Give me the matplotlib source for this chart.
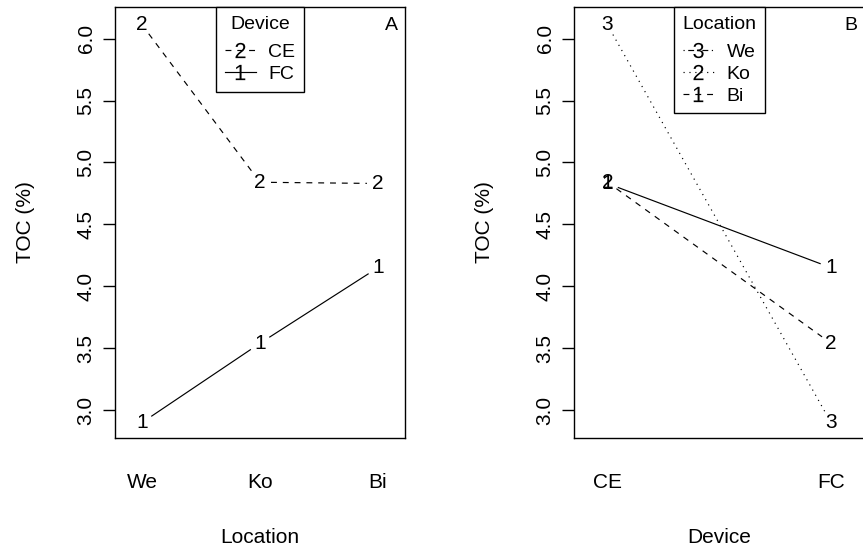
import matplotlib
matplotlib.use("Agg")
import matplotlib.pyplot as plt
from matplotlib.lines import Line2D
import numpy as np

plt.rcParams['font.family'] = ['Liberation Sans', 'DejaVu Sans']
plt.rcParams['mathtext.fontset'] = 'custom'
plt.rcParams['mathtext.rm'] = 'Liberation Sans'
plt.rcParams['mathtext.it'] = 'Liberation Sans'
plt.rcParams['mathtext.bf'] = 'Liberation Sans'

# ---- data ----
locations = ["We", "Ko", "Bi"]
devices = ["CE", "FC"]
toc_CE = [6.11, 4.84, 4.83]   # by location
toc_FC = [2.90, 3.54, 4.15]   # by location
yticks = [3.0, 3.5, 4.0, 4.5, 5.0, 5.5, 6.0]

W, H = 863, 551
fig = plt.figure(figsize=(W / 100, H / 100), dpi=100)

def fx(px):
    return px / W

def fy(py):
    return 1 - py / H

top, bottom = 7, 438
axA = fig.add_axes([fx(115), fy(bottom), fx(290), (bottom - top) / H])
axB = fig.add_axes([fx(574), fy(bottom), fx(290.5), (bottom - top) / H])

ylim = (2.775, 6.255)

def style(ax, xlabels, xlabel, xlim):
    ax.set_xlim(*xlim)
    ax.set_ylim(*ylim)
    ax.set_xticks(np.arange(1, len(xlabels) + 1))
    ax.set_xticklabels(xlabels)
    ax.set_yticks(yticks)
    ax.set_yticklabels([f"{v:.1f}" for v in yticks], rotation=90, va="center")
    ax.tick_params(axis="x", length=0, pad=25, labelsize=15)
    ax.tick_params(axis="y", length=9, width=1, pad=5, labelsize=15)
    ax.set_xlabel(xlabel, fontsize=15, labelpad=26)
    ax.set_ylabel("TOC (%)", fontsize=15, labelpad=30)
    for s in ax.spines.values():
        s.set_linewidth(1.0)

def gapped(ax, xs, ys, ls, gap=11):
    pts = ax.transData.transform(np.column_stack([xs, ys]))
    inv = ax.transData.inverted()
    for i in range(len(pts) - 1):
        p0, p1 = pts[i], pts[i + 1]
        d = p1 - p0
        L = np.hypot(*d)
        if L <= 2 * gap:
            continue
        u = d / L
        a = inv.transform(p0 + u * gap)
        b = inv.transform(p1 - u * gap)
        ax.plot([a[0], b[0]], [a[1], b[1]], color="black", lw=0.85,
                linestyle=ls, solid_capstyle="butt", dash_capstyle="butt")

def labels(ax, xs, ys, ch):
    for x, y in zip(xs, ys):
        ax.text(x, y, ch, ha="center", va="center", fontsize=15)

leg_kw = dict(loc="upper center", bbox_to_anchor=(0.5, 1.0),
              borderaxespad=0, fancybox=False, framealpha=1, edgecolor="black",
              fontsize=14, title_fontsize=14, handlelength=1.6, handletextpad=0.65,
              labelspacing=0.22, borderpad=0.45)

def finish_legend(leg):
    leg.get_frame().set_linewidth(1.0)
    try:
        leg._legend_box.sep = 0.22 * 14 + 4.5
    except Exception:
        pass

# ---- Panel A: x = Location, traces = Device ----
style(axA, locations, "Location", (0.77, 3.23))
xA = np.arange(1, len(locations) + 1)
dashed = (0, (5, 5))
dotted = (0, (1, 4))
gapped(axA, xA, toc_CE, dashed)
gapped(axA, xA, toc_FC, "-")
labels(axA, xA, toc_CE, "2")
labels(axA, xA, toc_FC, "1")

hA = [Line2D([], [], color="k", lw=0.85, ls=dashed, marker="$2$", markersize=11, markeredgewidth=0),
      Line2D([], [], color="k", lw=0.85, ls="-", marker="$1$", markersize=11, markeredgewidth=0)]
legA = axA.legend(hA, devices, title="Device", **leg_kw)
finish_legend(legA)
axA.text(0.955, 0.958, "A", transform=axA.transAxes, ha="center", va="center", fontsize=14)

# ---- Panel B: x = Device, traces = Location ----
style(axB, devices, "Device", (0.85, 2.15))
xB = np.arange(1, len(devices) + 1)
trace_styles = [dotted, dashed, "-"]
trace_chars = ["3", "2", "1"]
for i, loc in enumerate(locations):
    ys = [toc_CE[i], toc_FC[i]]
    gapped(axB, xB, ys, trace_styles[i])
for i, loc in enumerate(locations):
    ys = [toc_CE[i], toc_FC[i]]
    labels(axB, xB, ys, trace_chars[i])

leg_styles = [(0, (1, 3, 5, 3)), dotted, dashed]
hB = [Line2D([], [], color="k", lw=0.85, ls=leg_styles[i], marker=f"${trace_chars[i]}$",
             markersize=11, markeredgewidth=0) for i in range(len(locations))]
legB = axB.legend(hB, locations, title="Location", **leg_kw)
finish_legend(legB)
axB.text(0.952, 0.958, "B", transform=axB.transAxes, ha="center", va="center", fontsize=14)

fig.savefig("out.png", dpi=100)
